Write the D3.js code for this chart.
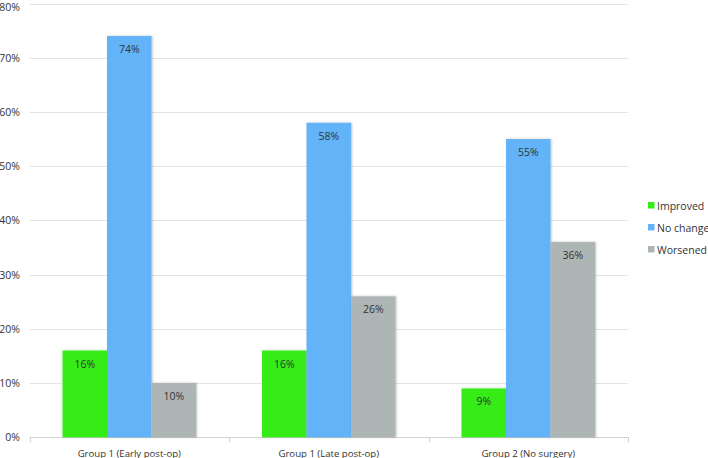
<!DOCTYPE html>
<html><head><meta charset="utf-8">
<script src="https://cdn.jsdelivr.net/npm/d3@7"></script>
<style>body{margin:0;background:#fff}svg{display:block}text{font-family:"Open Sans",sans-serif;fill:#333}</style>
</head><body><svg id="c" width="708" height="458"></svg>
<script>
const categories = ["Group 1 (Early post-op)", "Group 1 (Late post-op)", "Group 2 (No surgery)"];
const seriesNames = ["Improved", "No change", "Worsened"];
const improved = [16, 16, 9];
const noChange = [74, 58, 55];
const worsened = [10, 26, 36];
const yTicks = [0, 10, 20, 30, 40, 50, 60, 70, 80];
const colors = ["#35EC16", "#62B3F8", "#AEB5B5"];

const series = [improved, noChange, worsened];
const svg = d3.select("#c");
const m = {l: 29.5, r: 80, t: 3.5, b: 21};
const x = d3.scaleBand().domain(categories).range([m.l, 628]).paddingInner(0).paddingOuter(0);
const xi = d3.scaleBand().domain(seriesNames).range([33, x.bandwidth() - 33]);
const y = d3.scaleLinear().domain([0, 80]).range([437.3, m.t]);

const defs = svg.append("defs");
const f = defs.append("filter").attr("id","sh").attr("x","-10%").attr("y","-10%").attr("width","130%").attr("height","130%");
f.append("feDropShadow").attr("dx",1).attr("dy",0).attr("stdDeviation",1).attr("flood-color","#000").attr("flood-opacity",0.25);

// grid
svg.append("g").selectAll("line").data(yTicks).join("line")
  .attr("x1", m.l).attr("x2", 628).attr("y1", d => Math.round(y(d)) + 0.5).attr("y2", d => Math.round(y(d)) + 0.5)
  .attr("stroke", d => d === 0 ? "#d0d0d0" : "#e4e4e4").attr("stroke-width", 1);

// y labels
svg.append("g").selectAll("text").data(yTicks).join("text")
  .attr("x", 20).attr("y", d => Math.max(y(d) + 4, 11)).attr("text-anchor", "end").attr("font-size", 10.5)
  .text(d => d + "%");

// x axis
const xAxis = d3.axisBottom(x).tickSize(0).tickFormat(d => d);
const gx = svg.append("g").attr("transform", `translate(0,${Math.round(y(0))+0.5})`).call(xAxis);
gx.select(".domain").remove();
gx.selectAll("text").attr("font-size", 9.6).attr("dy", 0).attr("y", 19).attr("fill", "#333");
const bounds = categories.map(c => x(c)).concat([x(categories[2]) + x.bandwidth()]);
svg.append("g").selectAll("line").data(bounds).join("line")
  .attr("x1", d => Math.round(d)+0.5).attr("x2", d => Math.round(d)+0.5)
  .attr("y1", Math.round(y(0))).attr("y2", Math.round(y(0)) + 5).attr("stroke", "#d0d0d0");

// bars
const g = svg.append("g");
categories.forEach((c, ci) => {
  series.forEach((s, si) => {
    const v = s[ci];
    const bx = x(c) + xi(seriesNames[si]);
    g.append("rect").attr("x", bx).attr("y", y(v)).attr("width", xi.bandwidth()).attr("height", y(0) - y(v))
      .attr("fill", colors[si]).attr("filter", "url(#sh)");
    g.append("text").attr("x", bx + xi.bandwidth()/2).attr("y", y(v) + 17).attr("text-anchor", "middle")
      .attr("font-size", 10.5).attr("fill", "#1a2a3a").text(v + "%");
  });
});

// legend
const lg = svg.append("g");
seriesNames.forEach((n, i) => {
  const ly = 206 + i * 22;
  lg.append("rect").attr("x", 648).attr("y", ly - 4).attr("width", 6.5).attr("height", 6.5).attr("fill", colors[i]);
  lg.append("text").attr("x", 657).attr("y", ly + 4).attr("font-size", 10.5).text(n);
});
</script></body></html>
